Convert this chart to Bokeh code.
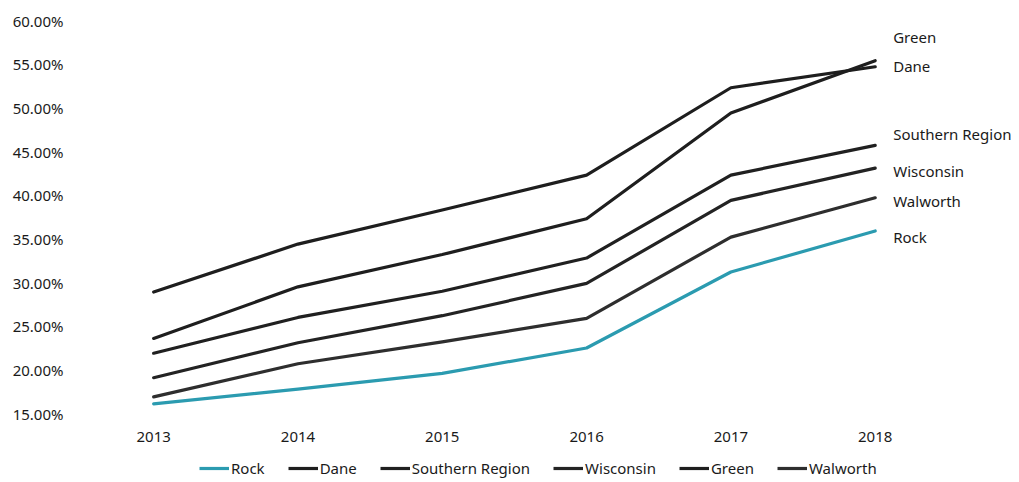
from bokeh.plotting import figure
from bokeh.layouts import column
from bokeh.models import Range1d, FixedTicker, PrintfTickFormatter, Legend, LegendItem
from bokeh.core.properties import value
from bokeh.embed import file_html
from bokeh.resources import INLINE

years = [2013, 2014, 2015, 2016, 2017, 2018]
rock = [16.1, 17.8, 19.6, 22.5, 31.2, 35.9]
dane = [28.9, 34.4, 38.3, 42.3, 52.3, 54.7]
southern = [21.9, 26.0, 29.0, 32.8, 42.3, 45.7]
wisconsin = [19.1, 23.1, 26.2, 29.9, 39.4, 43.1]
green = [23.6, 29.5, 33.2, 37.3, 49.4, 55.4]
walworth = [16.9, 20.7, 23.2, 25.9, 35.2, 39.7]

series_names = ["Rock", "Dane", "Southern Region", "Wisconsin", "Green", "Walworth"]
series_values = [rock, dane, southern, wisconsin, green, walworth]
colors = ["#2b9bb0", "#1e1e1e", "#202020", "#232323", "#1e1e1e", "#2e2e2e"]
# end-label pixel nudges (screen px, positive = up)
label_nudge = [-6, 1, 11, -3, 24, -3]

FONT = "Noto Sans"

p = figure(width=1019, height=444,
           x_range=Range1d(2012.5, 2019.0), y_range=Range1d(15, 60),
           output_backend="svg", toolbar_location=None,
           min_border_left=81, min_border_right=0, min_border_top=20, min_border_bottom=0)
p.outline_line_color = None
p.xgrid.visible = False
p.ygrid.visible = False

for name, vals, col in zip(series_names, series_values, colors):
    p.line(years, vals, line_color=col, line_width=3.2, line_cap="round", line_join="round")

# end labels
for name, vals, nud in zip(series_names, series_values, label_nudge):
    p.text(x=[years[-1]], y=[vals[-1]], text=[name], x_offset=18, y_offset=-nud,
           text_font=value(FONT), text_font_size="15px", text_color="#1a1a1a",
           text_baseline="middle", text_align="left")

p.yaxis.ticker = FixedTicker(ticks=[15, 20, 25, 30, 35, 40, 45, 50, 55, 60])
p.yaxis.formatter = PrintfTickFormatter(format="%.2f%%")
p.xaxis.ticker = FixedTicker(ticks=years)
p.xaxis.formatter = PrintfTickFormatter(format="%d")
for ax in (p.xaxis[0], p.yaxis[0]):
    ax.axis_line_color = None
    ax.major_tick_line_color = None
    ax.minor_tick_line_color = None
    ax.major_label_text_font = FONT
    ax.major_label_text_font_size = "15px"
    ax.major_label_text_color = "#1a1a1a"
p.yaxis.major_label_standoff = 12
p.xaxis.major_label_standoff = 12

# legend strip below the chart (its lines lie outside its visible range)
lg = figure(width=1019, height=38, x_range=Range1d(0, 1), y_range=Range1d(0, 1),
            output_backend="svg", toolbar_location=None,
            x_axis_location=None, y_axis_location=None,
            min_border_left=0, min_border_right=0, min_border_top=0, min_border_bottom=0)
lg.outline_line_color = None
lg.xgrid.visible = False
lg.ygrid.visible = False
items = []
for name, col in zip(series_names, colors):
    r = lg.line([-5, -4], [-5, -4], line_color=col, line_width=3.2)
    items.append(LegendItem(label=name, renderers=[r]))
legend = Legend(items=items, orientation="horizontal", location=(118, 4),
                label_text_font=FONT, label_text_font_size="15px", label_text_color="#1a1a1a",
                glyph_width=30, glyph_height=16, label_standoff=2, spacing=23,
                border_line_color=None, background_fill_alpha=0, padding=2, margin=0)
lg.add_layout(legend)

layout = column(p, lg, spacing=0)
open("out.html", "w").write(file_html(layout, INLINE))
